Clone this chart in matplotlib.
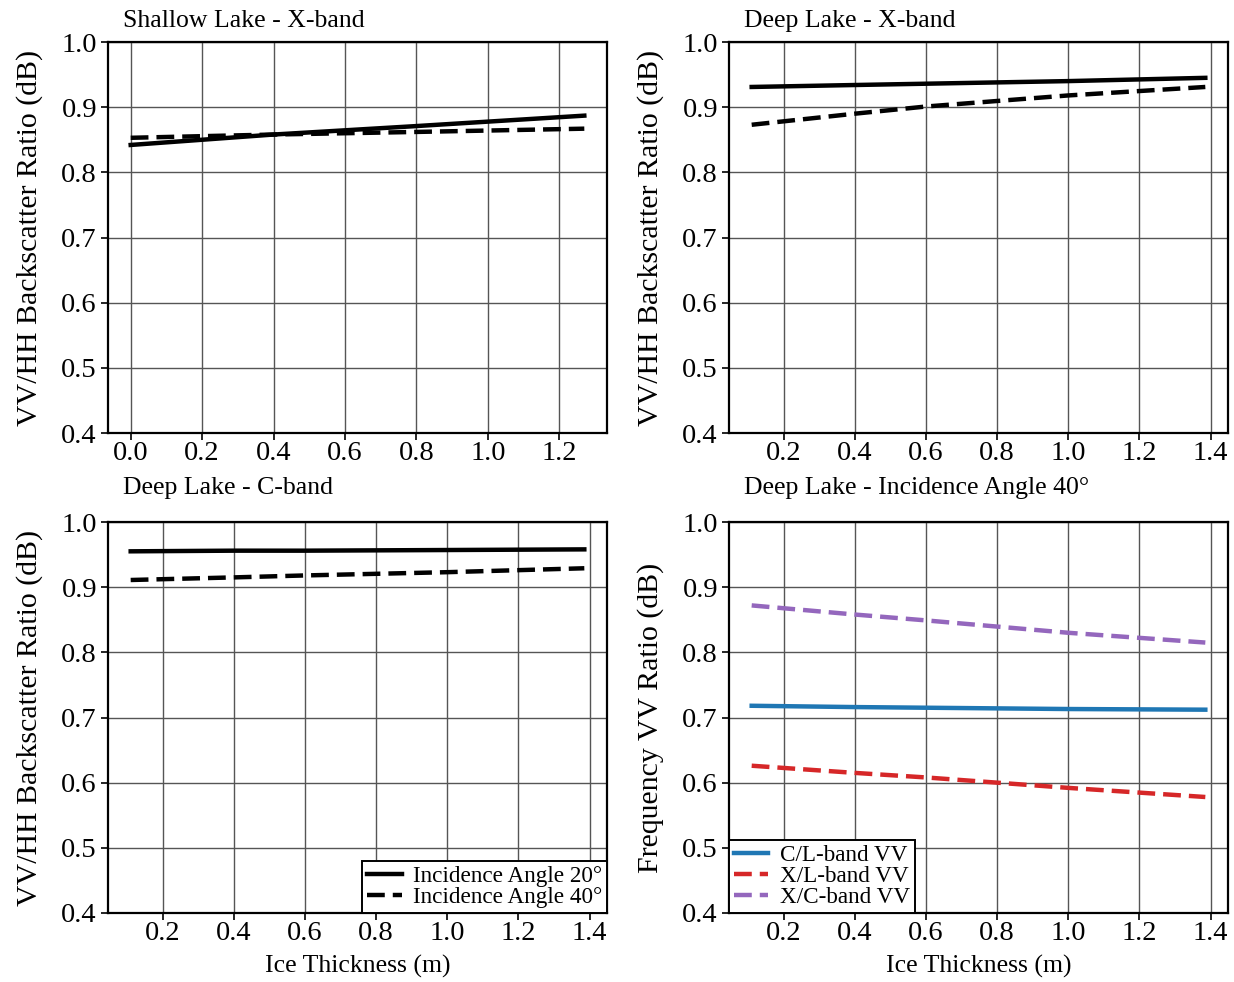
import numpy as np
import matplotlib
matplotlib.use('Agg')
import matplotlib.pyplot as plt

plt.rcParams['font.family'] = ['Liberation Serif', 'DejaVu Serif']

# ice thickness (m)
x_shallow = [0.0, 0.4, 0.8, 1.27]
x_deep = [0.11, 0.4, 0.6, 1.0, 1.385]

# shallow lake, X-band
shx_20 = [0.842, 0.858, 0.871, 0.887]
shx_40 = [0.853, 0.858, 0.862, 0.867]

# deep lake, X-band
dx_20 = [0.931, 0.934, 0.936, 0.940, 0.945]
dx_40 = [0.873, 0.890, 0.901, 0.918, 0.931]

# deep lake, C-band
dc_20 = [0.955, 0.956, 0.956, 0.957, 0.958]
dc_40 = [0.911, 0.915, 0.918, 0.923, 0.929]

# deep lake, frequency ratios at 40 deg
cl_vv = [0.718, 0.716, 0.715, 0.713, 0.712]
xl_vv = [0.626, 0.615, 0.608, 0.592, 0.578]
xc_vv = [0.872, 0.858, 0.849, 0.830, 0.815]

titles = ['Shallow Lake - X-band', 'Deep Lake - X-band',
          'Deep Lake - C-band', 'Deep Lake - Incidence Angle 40°']

fig = plt.figure(figsize=(12.34, 9.82), dpi=100)
W, H = 1234, 982
boxes = [(108, 42), (729, 42), (108, 522), (729, 522)]
title_gap = [21, 21, 34, 34]  # px between title centre and axes top
axes = []
for (l, t) in boxes:
    ax = fig.add_axes([l / W, 1 - (t + 391) / H, 499 / W, 391 / H])
    axes.append(ax)

lw = 3.2
dash = (0, (4, 1.8))

axes[0].plot(x_shallow, shx_20, color='black', lw=lw)
axes[0].plot(x_shallow, shx_40, color='black', lw=lw, linestyle=dash)
axes[1].plot(x_deep, dx_20, color='black', lw=lw)
axes[1].plot(x_deep, dx_40, color='black', lw=lw, linestyle=dash)
axes[2].plot(x_deep, dc_20, color='black', lw=lw, label='Incidence Angle 20°')
axes[2].plot(x_deep, dc_40, color='black', lw=lw, linestyle=dash, label='Incidence Angle 40°')
axes[3].plot(x_deep, cl_vv, color='#1f77b4', lw=lw, label='C/L-band VV')
axes[3].plot(x_deep, xl_vv, color='#d62728', lw=lw, linestyle=dash, label='X/L-band VV')
axes[3].plot(x_deep, xc_vv, color='#9467bd', lw=lw, linestyle=dash, label='X/C-band VV')

for i, ax in enumerate(axes):
    ax.set_ylim(0.4, 1.0)
    ax.set_yticks(np.arange(0.4, 1.01, 0.1))
    if i == 0:
        ax.set_xticks(np.arange(0.0, 1.21, 0.2))
    else:
        ax.set_xticks(np.arange(0.2, 1.41, 0.2))
    ax.xaxis.set_major_formatter(plt.FormatStrFormatter('%.1f'))
    ax.yaxis.set_major_formatter(plt.FormatStrFormatter('%.1f'))
    ax.grid(True, color='#555555', lw=1.0)
    ax.set_axisbelow(True)
    ax.tick_params(labelsize=20.5, length=5, width=1.2, direction='out', pad=3)
    ax.tick_params(axis='x', pad=1)
    for s in ax.spines.values():
        s.set_linewidth(1.6)
    ax.text(0.03, 1 + title_gap[i] / 391, titles[i], transform=ax.transAxes,
            fontsize=18.5, ha='left', va='center')
    if i == 3:
        ax.set_ylabel('Frequency VV Ratio (dB)', fontsize=21.5, labelpad=13)
    else:
        ax.set_ylabel('VV/HH Backscatter Ratio (dB)', fontsize=21.5, labelpad=13)
    if i >= 2:
        ax.set_xlabel('Ice Thickness (m)', fontsize=18.5, labelpad=6)

for ax, loc in [(axes[2], 'lower right'), (axes[3], 'lower left')]:
    leg = ax.legend(loc=loc, fontsize=16.7, frameon=True, fancybox=False,
                    edgecolor='black', framealpha=1, borderpad=0.2,
                    labelspacing=0.0, handlelength=1.5, handletextpad=0.5,
                    borderaxespad=0.0)
    leg.get_frame().set_linewidth(1.4)

fig.savefig('out.png', dpi=100)
